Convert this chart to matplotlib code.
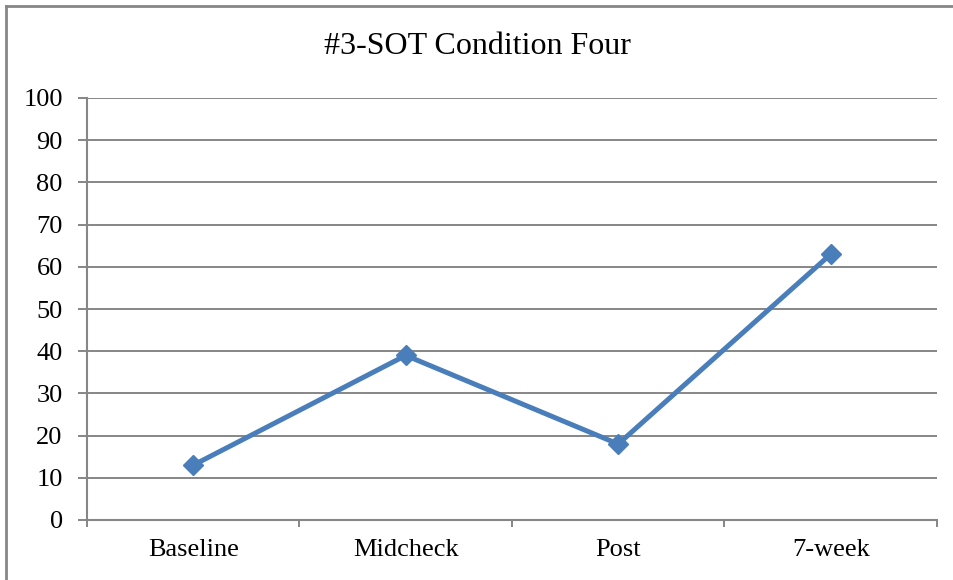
import matplotlib.pyplot as plt
from matplotlib.lines import Line2D

# Chart data
categories = ['Baseline', 'Midcheck', 'Post', '7-week']
values = [13, 39, 18, 63]
y_ticks = list(range(0, 101, 10))

plt.rcParams['font.family'] = ['Liberation Serif', 'DejaVu Serif']

grid_col = '#868686'
line_col = '#4A7EBB'

fig = plt.figure(figsize=(9.54, 5.8), dpi=100)
W, H = 954, 580
ax = fig.add_axes([87 / W, 1 - 520 / H, (937 - 87) / W, (520 - 98) / H])

x = [i + 0.5 for i in range(len(categories))]
ax.plot(x, values, color=line_col, linewidth=3.6, marker='D', markersize=10,
        markerfacecolor=line_col, markeredgecolor=line_col, zorder=3)

ax.set_xlim(0, len(categories))
ax.set_ylim(0, 100)
ax.set_yticks(y_ticks)
ax.set_xticks(range(len(categories) + 1))
ax.set_xticklabels([])
ax.set_xticks(x, minor=True)
ax.set_xticklabels(categories, minor=True)

ax.yaxis.grid(True, color=grid_col, linewidth=1.4)
ax.set_axisbelow(True)
for side in ['top', 'right']:
    ax.spines[side].set_visible(False)
for side in ['left', 'bottom']:
    ax.spines[side].set_color(grid_col)
    ax.spines[side].set_linewidth(1.5)

ax.tick_params(axis='y', which='major', length=6.5, width=1.4, color=grid_col,
               labelsize=19, pad=11)
ax.tick_params(axis='x', which='major', length=5, width=1.4, color=grid_col,
               direction='out')
ax.tick_params(axis='x', which='minor', length=0, labelsize=19, pad=14)

fig.text(0.5, 1 - 47 / H, '#3-SOT Condition Four', ha='center', va='center',
         fontsize=23)

# outer chart border (top and left visible)
fig.add_artist(Line2D([6 / W, 1], [1 - 6 / H, 1 - 6 / H], color=grid_col,
                      linewidth=2, transform=fig.transFigure))
fig.add_artist(Line2D([6 / W, 6 / W], [0, 1 - 6 / H], color=grid_col,
                      linewidth=2, transform=fig.transFigure))

plt.savefig('out.png', dpi=100)
